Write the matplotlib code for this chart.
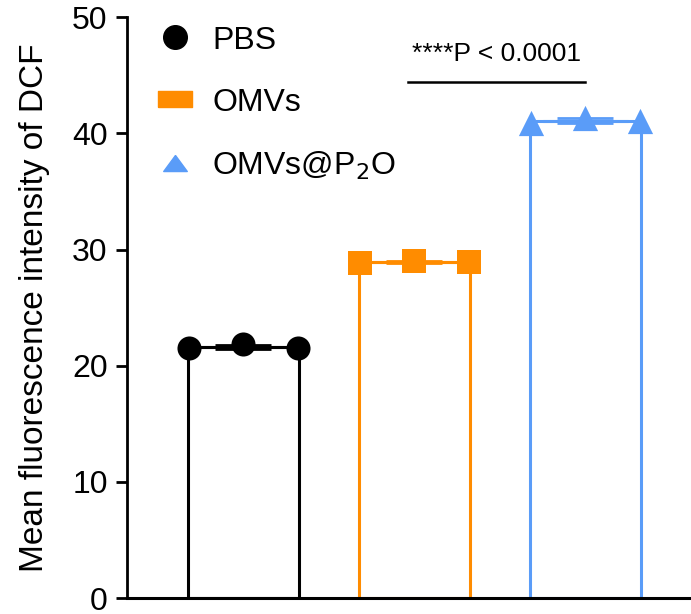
import matplotlib
matplotlib.use("Agg")
import matplotlib.pyplot as plt
import numpy as np
from matplotlib.lines import Line2D

plt.rcParams['font.family'] = ['Liberation Sans', 'DejaVu Sans']

groups = ["PBS", "OMVs", "OMVs@P$_2$O"]
colors = ["#000000", "#FF8C00", "#5A9CF8"]
markers = ["o", "s", "^"]
points = [
    [21.55, 21.85, 21.55],
    [28.86, 29.03, 28.92],
    [40.85, 41.30, 41.10],
]
yticks = [0, 10, 20, 30, 40, 50]
sig_text = "****P < 0.0001"

fig = plt.figure(figsize=(6.91, 6.14), dpi=100)
ax = fig.add_axes([0.184, 0.026, 0.816, 0.946])

x = np.arange(len(groups))
means = [np.mean(p) for p in points]
sds = [np.std(p, ddof=1) for p in points]
bw = 0.65
for i in range(len(groups)):
    ax.bar(x[i], means[i], width=bw, facecolor="white", edgecolor=colors[i],
           linewidth=2.2, zorder=2)
    ax.errorbar(x[i], means[i], yerr=sds[i], color=colors[i], capsize=20,
                elinewidth=2, capthick=2, zorder=3)
    ax.hlines(means[i], x[i] - 0.25, x[i] + 0.25, color=colors[i], lw=2.2, zorder=3)
    offs = np.array([-0.32, 0.0, 0.32])
    ax.scatter(x[i] + offs, points[i], marker=markers[i], s=300 if markers[i] != "^" else 330,
               color=colors[i], zorder=4, linewidths=0)

ax.set_xlim(-0.68, 2.617)
ax.set_ylim(0, 50)
ax.set_yticks(yticks)
ax.set_xticks([])
ax.tick_params(axis='y', labelsize=23, width=2, length=8, direction='out', pad=6)
ax.set_ylabel("Mean fluorescence intensity of DCF", fontsize=24, labelpad=16)
for s in ["top", "right"]:
    ax.spines[s].set_visible(False)
ax.spines["left"].set_linewidth(2)
ax.spines["bottom"].set_linewidth(2.2)
ax.spines["left"].set_bounds(0, 50)

# significance
ax.plot([0.96, 2.0], [44.4, 44.4], color="black", lw=1.8)
ax.text(1.48, 45.8, sig_text, ha="center", va="bottom", fontsize=19)

rect = [(-1, -0.5), (1, -0.5), (1, 0.5), (-1, 0.5), (-1, -0.5)]
tri = [(0, 0.68), (-1, -0.68), (1, -0.68), (0, 0.68)]
handles = [
    Line2D([], [], marker="o", color=colors[0], linestyle="none", markersize=17),
    Line2D([], [], marker=rect, color=colors[1], linestyle="none", markersize=24),
    Line2D([], [], marker=tri, color=colors[2], linestyle="none", markersize=17),
]
leg = ax.legend(handles, groups, loc="upper left", bbox_to_anchor=(0.0, 1.035),
                frameon=False, fontsize=23, handlelength=1.2, handletextpad=0.56,
                labelspacing=1.0)

fig.savefig("out.png", dpi=100)
